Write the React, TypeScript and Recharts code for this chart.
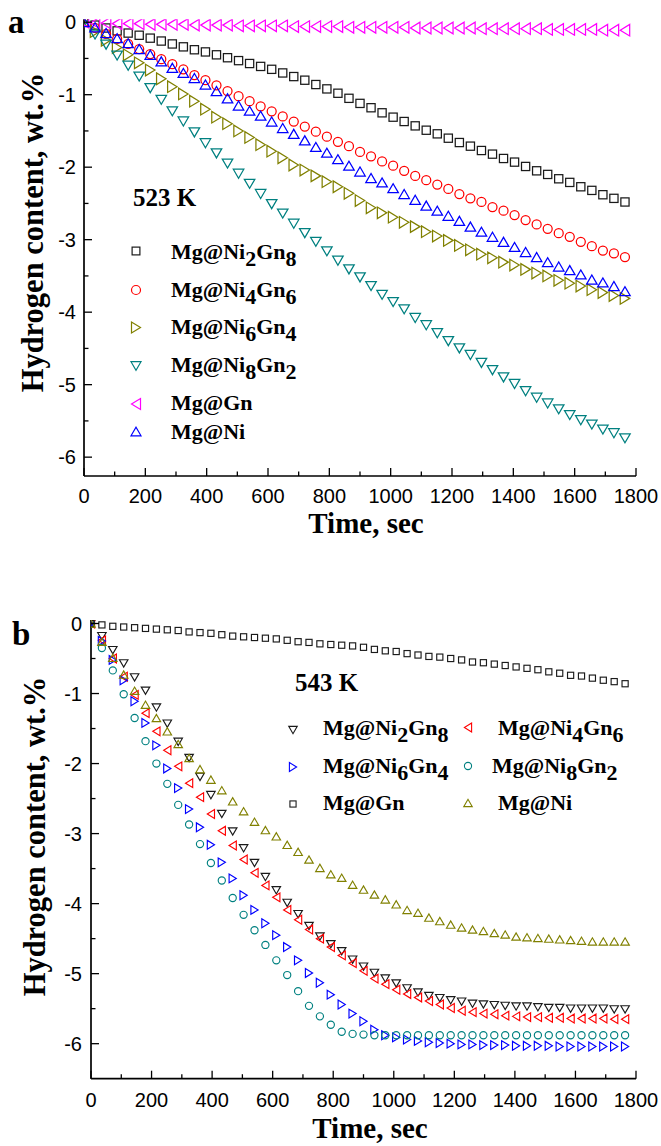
import React from 'react';
import { ScatterChart, Scatter, XAxis, YAxis, Legend } from 'recharts';

// ---------------- data ----------------
const TIME_S = [0, 36, 72, 108, 144, 180, 216, 252, 288, 324, 360, 396, 432, 468, 504, 540, 576, 612, 648, 684,
  720, 756, 792, 828, 864, 900, 936, 972, 1008, 1044, 1080, 1116, 1152, 1188, 1224, 1260, 1296, 1332, 1368, 1404,
  1440, 1476, 1512, 1548, 1584, 1620, 1656, 1692, 1728, 1764];

const X_TICKS = [0, 100, 200, 300, 400, 500, 600, 700, 800, 900, 1000, 1100, 1200, 1300, 1400, 1500, 1600, 1700, 1800];
const Y_TICKS_A = [0, -0.5, -1, -1.5, -2, -2.5, -3, -3.5, -4, -4.5, -5, -5.5, -6];
const Y_TICKS_B = [0, -0.5, -1, -1.5, -2, -2.5, -3, -3.5, -4, -4.5, -5, -5.5, -6];
const MIRROR_TICKS = [0.1, 0.2, 0.3, 0.4, 0.5, 0.6, 0.7, 0.8, 0.9];

// (a) 523 K
const A_NI2GN8 = [0, -0.04, -0.08, -0.12, -0.15, -0.18, -0.22, -0.26, -0.30, -0.34,
  -0.38, -0.41, -0.45, -0.49, -0.53, -0.57, -0.61, -0.65, -0.70, -0.75,
  -0.80, -0.86, -0.92, -0.98, -1.05, -1.12, -1.18, -1.25, -1.31, -1.37,
  -1.43, -1.49, -1.54, -1.60, -1.66, -1.71, -1.77, -1.82, -1.88, -1.93,
  -1.99, -2.05, -2.10, -2.16, -2.21, -2.27, -2.32, -2.38, -2.43, -2.48];
const A_NI4GN6 = [0, -0.08, -0.16, -0.23, -0.30, -0.37, -0.44, -0.51, -0.58, -0.65,
  -0.73, -0.80, -0.87, -0.95, -1.02, -1.09, -1.16, -1.23, -1.30, -1.37,
  -1.44, -1.51, -1.58, -1.65, -1.71, -1.79, -1.85, -1.92, -1.98, -2.05,
  -2.12, -2.18, -2.24, -2.30, -2.37, -2.43, -2.48, -2.55, -2.60, -2.66,
  -2.73, -2.79, -2.85, -2.91, -2.96, -3.03, -3.09, -3.15, -3.19, -3.24];
const A_NI6GN4 = [0, -0.13, -0.25, -0.35, -0.45, -0.56, -0.66, -0.78, -0.89, -0.99,
  -1.09, -1.20, -1.31, -1.40, -1.50, -1.59, -1.69, -1.78, -1.87, -1.97,
  -2.04, -2.12, -2.20, -2.27, -2.36, -2.46, -2.56, -2.63, -2.69, -2.76,
  -2.82, -2.89, -2.95, -3.01, -3.08, -3.14, -3.20, -3.25, -3.31, -3.35,
  -3.41, -3.46, -3.50, -3.56, -3.60, -3.64, -3.69, -3.73, -3.77, -3.81];
const A_NI8GN2 = [0, -0.17, -0.31, -0.46, -0.60, -0.75, -0.91, -1.07, -1.23, -1.37,
  -1.52, -1.67, -1.81, -1.95, -2.09, -2.23, -2.37, -2.51, -2.64, -2.78,
  -2.91, -3.03, -3.16, -3.29, -3.41, -3.52, -3.64, -3.76, -3.86, -3.96,
  -4.08, -4.18, -4.29, -4.40, -4.50, -4.59, -4.70, -4.80, -4.90, -4.99,
  -5.09, -5.18, -5.26, -5.34, -5.42, -5.49, -5.55, -5.62, -5.67, -5.74];
const A_GN = [0, -0.01, -0.01, -0.02, -0.02, -0.02, -0.03, -0.03, -0.03, -0.03,
  -0.04, -0.04, -0.04, -0.04, -0.05, -0.05, -0.05, -0.05, -0.05, -0.06,
  -0.06, -0.06, -0.06, -0.06, -0.07, -0.07, -0.07, -0.07, -0.07, -0.07,
  -0.08, -0.08, -0.08, -0.08, -0.08, -0.08, -0.09, -0.09, -0.09, -0.09,
  -0.09, -0.09, -0.10, -0.10, -0.10, -0.10, -0.10, -0.11, -0.11, -0.11];
const A_NI = [0, -0.07, -0.15, -0.22, -0.29, -0.37, -0.45, -0.54, -0.63, -0.70,
  -0.77, -0.86, -0.95, -1.05, -1.15, -1.22, -1.29, -1.37, -1.46, -1.54,
  -1.63, -1.72, -1.80, -1.89, -1.98, -2.06, -2.15, -2.21, -2.29, -2.37,
  -2.45, -2.53, -2.60, -2.67, -2.74, -2.82, -2.89, -2.96, -3.03, -3.10,
  -3.17, -3.24, -3.31, -3.37, -3.42, -3.48, -3.55, -3.59, -3.64, -3.71];

// (b) 543 K
const B_NI2GN8 = [0, -0.18, -0.38, -0.57, -0.77, -0.96, -1.20, -1.43, -1.69, -1.92,
  -2.19, -2.45, -2.72, -2.97, -3.21, -3.42, -3.62, -3.81, -3.99, -4.15,
  -4.32, -4.47, -4.58, -4.68, -4.80, -4.90, -4.99, -5.07, -5.14, -5.21,
  -5.27, -5.32, -5.35, -5.38, -5.40, -5.43, -5.44, -5.45, -5.46, -5.47,
  -5.47, -5.48, -5.49, -5.49, -5.50, -5.50, -5.50, -5.50, -5.51, -5.51];
const B_NI4GN6 = [0, -0.24, -0.50, -0.76, -1.02, -1.28, -1.54, -1.81, -2.04, -2.28,
  -2.48, -2.72, -2.96, -3.17, -3.37, -3.56, -3.74, -3.91, -4.09, -4.23,
  -4.37, -4.50, -4.62, -4.74, -4.85, -4.96, -5.07, -5.15, -5.23, -5.29,
  -5.34, -5.39, -5.44, -5.49, -5.53, -5.55, -5.57, -5.58, -5.60, -5.61,
  -5.62, -5.62, -5.63, -5.63, -5.64, -5.64, -5.64, -5.64, -5.65, -5.65];
const B_NI6GN4 = [0, -0.25, -0.52, -0.81, -1.11, -1.42, -1.74, -2.07, -2.35, -2.65,
  -2.91, -3.16, -3.41, -3.64, -3.88, -4.09, -4.28, -4.45, -4.62, -4.81,
  -4.99, -5.13, -5.30, -5.44, -5.57, -5.68, -5.80, -5.88, -5.91, -5.94,
  -5.96, -5.98, -5.99, -6.00, -6.01, -6.01, -6.02, -6.02, -6.02, -6.03,
  -6.03, -6.03, -6.03, -6.04, -6.04, -6.04, -6.04, -6.04, -6.04, -6.04];
const B_NI8GN2 = [0, -0.35, -0.67, -1.01, -1.35, -1.68, -2.00, -2.29, -2.59, -2.87,
  -3.15, -3.42, -3.67, -3.92, -4.16, -4.38, -4.59, -4.81, -5.02, -5.25,
  -5.46, -5.61, -5.73, -5.83, -5.86, -5.87, -5.88, -5.88, -5.88, -5.88,
  -5.88, -5.88, -5.88, -5.88, -5.88, -5.88, -5.88, -5.88, -5.88, -5.88,
  -5.88, -5.88, -5.88, -5.88, -5.88, -5.88, -5.88, -5.88, -5.88, -5.88];
const B_GN = [0, -0.02, -0.04, -0.05, -0.06, -0.07, -0.08, -0.09, -0.10, -0.12,
  -0.13, -0.14, -0.16, -0.18, -0.19, -0.20, -0.21, -0.22, -0.24, -0.26,
  -0.27, -0.29, -0.30, -0.31, -0.32, -0.34, -0.37, -0.39, -0.40, -0.43,
  -0.45, -0.47, -0.48, -0.50, -0.52, -0.55, -0.56, -0.58, -0.60, -0.62,
  -0.64, -0.66, -0.69, -0.71, -0.74, -0.75, -0.78, -0.81, -0.83, -0.86];
const B_NI = [0, -0.26, -0.49, -0.73, -0.96, -1.16, -1.35, -1.54, -1.72, -1.92,
  -2.08, -2.23, -2.38, -2.54, -2.68, -2.83, -2.95, -3.04, -3.16, -3.26,
  -3.37, -3.49, -3.58, -3.63, -3.73, -3.80, -3.87, -3.94, -4.01, -4.09,
  -4.13, -4.20, -4.25, -4.30, -4.34, -4.37, -4.39, -4.42, -4.44, -4.47,
  -4.48, -4.49, -4.50, -4.51, -4.52, -4.53, -4.54, -4.54, -4.54, -4.54];

// ---------------- styling ----------------
const SERIF = "'Liberation Serif', 'Times New Roman', Times, serif";
const SANS = "'Liberation Sans', Arial, Helvetica, sans-serif";
const BLACK = '#1a1a1a';
const RED = '#ff0000';
const OLIVE = '#808000';
const TEAL = '#008080';
const MAGENTA = '#ff00ff';
const BLUE = '#0000ff';

type Kind = 'square' | 'circle' | 'up' | 'down' | 'left' | 'right';

function Marker({ cx, cy, kind, size, color, sw = 1.2 }: { cx: number; cy: number; kind: Kind; size: number; color: string; sw?: number }) {
  if (cx == null || cy == null || isNaN(cx) || isNaN(cy)) return null;
  const h = size / 2;
  const common = { fill: 'none', stroke: color, strokeWidth: sw } as any;
  if (kind === 'square') return <rect x={cx - h * 0.82} y={cy - h * 0.82} width={size * 0.82} height={size * 0.82} {...common} />;
  if (kind === 'circle') return <circle cx={cx} cy={cy} r={h * 0.9} {...common} />;
  const a = h;
  const t = size * 0.43;
  let p = '';
  if (kind === 'up') p = `${cx - a},${cy + t} ${cx + a},${cy + t} ${cx},${cy - t}`;
  if (kind === 'down') p = `${cx - a},${cy - t} ${cx + a},${cy - t} ${cx},${cy + t}`;
  const b = size * 0.55;
  const c = size * 0.45;
  if (kind === 'left') p = `${cx - c},${cy} ${cx + c},${cy - b} ${cx + c},${cy + b}`;
  if (kind === 'right') p = `${cx + c},${cy} ${cx - c},${cy - b} ${cx - c},${cy + b}`;
  return <polygon points={p} {...common} strokeLinejoin="miter" />;
}

const pts = (ys: number[]) => TIME_S.map((t, i) => ({ x: t, y: ys[i] }));

type SeriesDef = { name: string; label: string[]; data: number[]; kind: Kind; color: string };

const SERIES_A: SeriesDef[] = [
  { name: 'Mg@Ni2Gn8', label: ['Mg@Ni', '2', 'Gn', '8'], data: A_NI2GN8, kind: 'square', color: BLACK },
  { name: 'Mg@Ni4Gn6', label: ['Mg@Ni', '4', 'Gn', '6'], data: A_NI4GN6, kind: 'circle', color: RED },
  { name: 'Mg@Ni6Gn4', label: ['Mg@Ni', '6', 'Gn', '4'], data: A_NI6GN4, kind: 'right', color: OLIVE },
  { name: 'Mg@Ni8Gn2', label: ['Mg@Ni', '8', 'Gn', '2'], data: A_NI8GN2, kind: 'down', color: TEAL },
  { name: 'Mg@Gn', label: ['Mg@Gn'], data: A_GN, kind: 'left', color: MAGENTA },
  { name: 'Mg@Ni', label: ['Mg@Ni'], data: A_NI, kind: 'up', color: BLUE },
];

const SERIES_B: SeriesDef[] = [
  { name: 'Mg@Ni2Gn8', label: ['Mg@Ni', '2', 'Gn', '8'], data: B_NI2GN8, kind: 'down', color: BLACK },
  { name: 'Mg@Ni4Gn6', label: ['Mg@Ni', '4', 'Gn', '6'], data: B_NI4GN6, kind: 'left', color: RED },
  { name: 'Mg@Ni6Gn4', label: ['Mg@Ni', '6', 'Gn', '4'], data: B_NI6GN4, kind: 'right', color: BLUE },
  { name: 'Mg@Ni8Gn2', label: ['Mg@Ni', '8', 'Gn', '2'], data: B_NI8GN2, kind: 'circle', color: TEAL },
  { name: 'Mg@Gn', label: ['Mg@Gn'], data: B_GN, kind: 'square', color: BLACK },
  { name: 'Mg@Ni', label: ['Mg@Ni'], data: B_NI, kind: 'up', color: OLIVE },
];

// ---------------- ticks ----------------
const TICK_W = 1.3;
const bottomTick = (labelDy: number) => (p: any) => {
  const v = p.payload.value;
  const major = v % 200 === 0;
  return (
    <g>
      <line x1={p.x} x2={p.x} y1={p.y} y2={p.y - (major ? 8 : 4.5)} stroke="#000" strokeWidth={TICK_W} />
      {major ? (
        <text x={p.x} y={p.y + labelDy} textAnchor="middle" fontFamily={SANS} fontSize={20} fill="#000">{v}</text>
      ) : null}
    </g>
  );
};
const leftTick = (gap: number) => (p: any) => {
  const v = p.payload.value;
  const major = Math.abs(v - Math.round(v)) < 1e-6;
  return (
    <g>
      <line x1={p.x} x2={p.x + (major ? 8 : 4.5)} y1={p.y} y2={p.y} stroke="#000" strokeWidth={TICK_W} />
      {major ? (
        <text x={p.x - gap} y={p.y} dy="0.36em" textAnchor="end" fontFamily={SANS} fontSize={20} fill="#000">{Math.round(v) === 0 ? '0' : String(Math.round(v))}</text>
      ) : null}
    </g>
  );
};
const topTick = (p: any) => <line x1={p.x} x2={p.x} y1={p.y} y2={p.y + 4.5} stroke="#000" strokeWidth={TICK_W} />;
const rightTick = (p: any) => <line x1={p.x} x2={p.x - 4.5} y1={p.y} y2={p.y} stroke="#000" strokeWidth={TICK_W} />;

const AXIS_LINE = { stroke: '#000', strokeWidth: 1.7 };

// ---------------- legend helpers ----------------
function Formula({ x, y, segs, size, sub }: { x: number; y: number; segs: string[]; size: number; sub: number }) {
  return (
    <text x={x} y={y} fontFamily={SERIF} fontWeight="bold" fontSize={size} fill="#000">
      {segs.map((s, i) => (
        <tspan key={i} dy={i === 0 ? 0 : i % 2 === 1 ? sub : -sub}>{s}</tspan>
      ))}
    </text>
  );
}

const LEGEND_A_POS = [
  { cy: 251, ty: 258.5 },
  { cy: 290, ty: 296.5 },
  { cy: 327.5, ty: 334 },
  { cy: 366, ty: 372 },
  { cy: 404, ty: 410 },
  { cy: 431.5, ty: 438.5 },
];
const LEGEND_A_SIZES: Record<Kind, number> = { square: 9.5, circle: 10, right: 10, down: 10, left: 10, up: 10 };

function LegendA() {
  return (
    <svg width={661} height={560} style={{ display: 'block', overflow: 'visible' }}>
      {SERIES_A.map((s, i) => (
        <g key={s.name}>
          <Marker cx={136} cy={LEGEND_A_POS[i].cy} kind={s.kind} size={LEGEND_A_SIZES[s.kind]} color={s.color} />
          <Formula x={171} y={LEGEND_A_POS[i].ty} segs={s.label} size={22} sub={7} />
        </g>
      ))}
    </svg>
  );
}

const LEGEND_B_POS = [
  { mx: 293, cy: 730, tx: 323, ty: 735 },
  { mx: 468, cy: 727.5, tx: 498, ty: 735 },
  { mx: 293, cy: 767, tx: 323, ty: 773 },
  { mx: 468, cy: 766, tx: 492, ty: 773 },
  { mx: 293, cy: 804, tx: 323, ty: 810 },
  { mx: 468, cy: 803, tx: 498, ty: 810 },
];
const B_OFF = 560;
const SIZES_B: Record<Kind, number> = { square: 7.5, circle: 8, right: 8, down: 8.5, left: 8, up: 8.5 };
const SIZES_A: Record<Kind, number> = { square: 10, circle: 10, right: 10.5, down: 10.5, left: 10.5, up: 10.5 };

function LegendB() {
  return (
    <svg width={661} height={586} style={{ display: 'block', overflow: 'visible' }}>
      {SERIES_B.map((s, i) => (
        <g key={s.name}>
          <Marker cx={LEGEND_B_POS[i].mx} cy={LEGEND_B_POS[i].cy - B_OFF} kind={s.kind} size={SIZES_B[s.kind]} color={s.color} sw={1.1} />
          <Formula x={LEGEND_B_POS[i].tx} y={LEGEND_B_POS[i].ty - B_OFF} segs={s.label} size={22} sub={7} />
        </g>
      ))}
    </svg>
  );
}

// ---------------- panels ----------------
function PanelA() {
  return (
    <ScatterChart width={661} height={560} margin={{ top: 19.3, right: 25, bottom: 44, left: 24 }}>
      <XAxis xAxisId={0} type="number" dataKey="x" domain={[0, 1800]} ticks={X_TICKS} interval={0}
        tickSize={0} tickMargin={0} tickLine={false} tick={bottomTick(27)} axisLine={AXIS_LINE} height={40} allowDataOverflow />
      <XAxis xAxisId="top" orientation="top" type="number" domain={[0, 1]} ticks={MIRROR_TICKS} interval={0}
        tickSize={0} tickMargin={0} tickLine={false} tick={topTick} axisLine={AXIS_LINE} height={0} allowDataOverflow />
      <YAxis yAxisId={0} type="number" dataKey="y" domain={[-6.26, 0.04]} ticks={Y_TICKS_A} interval={0}
        tickSize={0} tickMargin={0} tickLine={false} tick={leftTick(8)} axisLine={AXIS_LINE} width={60} allowDataOverflow />
      <YAxis yAxisId="right" orientation="right" type="number" domain={[0, 1]} ticks={MIRROR_TICKS} interval={0}
        tickSize={0} tickMargin={0} tickLine={false} tick={rightTick} axisLine={AXIS_LINE} width={0} allowDataOverflow />
      {SERIES_A.map((s) => (
        <Scatter key={s.name} name={s.name} data={pts(s.data)} xAxisId={0} yAxisId={0} isAnimationActive={false}
          shape={(p: any) => <Marker cx={p.cx} cy={p.cy} kind={s.kind} size={SIZES_A[s.kind]} color={s.color} sw={1.25} />} />
      ))}
      <Legend layout="horizontal" verticalAlign="middle" align="center"
        wrapperStyle={{ position: 'absolute', left: 0, top: 0, width: 661, height: 560, margin: 0, padding: 0 }}
        content={() => <LegendA />} />
    </ScatterChart>
  );
}

function PanelB() {
  return (
    <ScatterChart width={661} height={586} margin={{ top: 60, right: 25, bottom: 27.3, left: 31 }}>
      <XAxis xAxisId={0} type="number" dataKey="x" domain={[0, 1800]} ticks={X_TICKS} interval={0}
        tickSize={0} tickMargin={0} tickLine={false} tick={bottomTick(28)} axisLine={AXIS_LINE} height={40} allowDataOverflow />
      <XAxis xAxisId="top" orientation="top" type="number" domain={[0, 1]} ticks={MIRROR_TICKS} interval={0}
        tickSize={0} tickMargin={0} tickLine={false} tick={topTick} axisLine={AXIS_LINE} height={0} allowDataOverflow />
      <YAxis yAxisId={0} type="number" dataKey="y" domain={[-6.5, 0.05]} ticks={Y_TICKS_B} interval={0}
        tickSize={0} tickMargin={0} tickLine={false} tick={leftTick(9)} axisLine={AXIS_LINE} width={60} allowDataOverflow />
      <YAxis yAxisId="right" orientation="right" type="number" domain={[0, 1]} ticks={MIRROR_TICKS} interval={0}
        tickSize={0} tickMargin={0} tickLine={false} tick={rightTick} axisLine={AXIS_LINE} width={0} allowDataOverflow />
      {SERIES_B.map((s) => (
        <Scatter key={s.name} name={s.name} data={pts(s.data)} xAxisId={0} yAxisId={0} isAnimationActive={false}
          shape={(p: any) => <Marker cx={p.cx} cy={p.cy} kind={s.kind} size={SIZES_B[s.kind]} color={s.color} sw={1.15} />} />
      ))}
      <Legend layout="horizontal" verticalAlign="middle" align="center"
        wrapperStyle={{ position: 'absolute', left: 0, top: 0, width: 661, height: 586, margin: 0, padding: 0 }}
        content={() => <LegendB />} />
    </ScatterChart>
  );
}

const TITLE_X = 'Time, sec';
const TITLE_Y = 'Hydrogen content, wt.%';

export default function App() {
  return (
    <div style={{ position: 'absolute', left: 0, top: 0, width: 661, height: 1146, background: '#fff', overflow: 'hidden' }}>
      <div style={{ position: 'absolute', left: 0, top: 0 }}>
        <PanelA />
      </div>
      <div style={{ position: 'absolute', left: 0, top: B_OFF }}>
        <PanelB />
      </div>
      <svg width={661} height={1146} style={{ position: 'absolute', left: 0, top: 0, pointerEvents: 'none' }}>
        <g fontFamily={SERIF} fontWeight="bold" fill="#000">
          <text x={8} y={33} fontSize={33}>a</text>
          <text x={12} y={645} fontSize={33}>b</text>
          <text x={133} y={205.5} fontSize={25}>523 K</text>
          <text x={295} y={690.5} fontSize={25}>543 K</text>
          <text x={366} y={533} fontSize={29} textAnchor="middle">{TITLE_X}</text>
          <text x={370} y={1138} fontSize={29} textAnchor="middle">{TITLE_X}</text>
          <text transform="translate(43,232.5) rotate(-90)" fontSize={30.5} textAnchor="middle">{TITLE_Y}</text>
          <text transform="translate(45,836.5) rotate(-90)" fontSize={30.5} textAnchor="middle">{TITLE_Y}</text>
        </g>
      </svg>
    </div>
  );
}
